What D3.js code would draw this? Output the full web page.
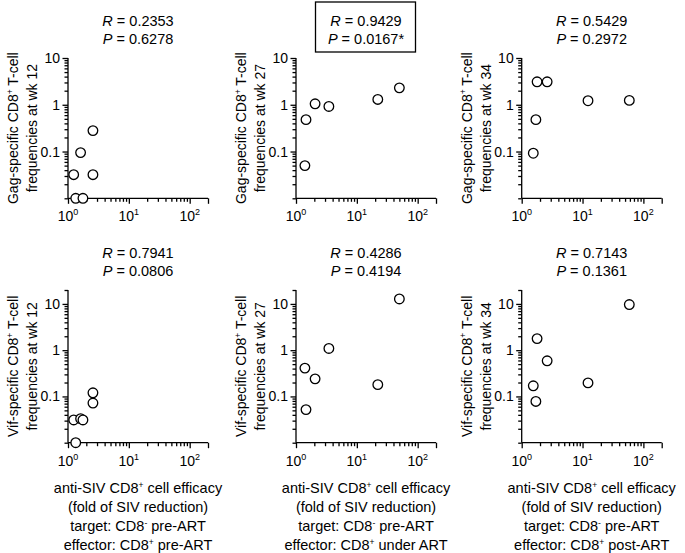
<!DOCTYPE html>
<html>
<head>
<meta charset="utf-8">
<script src="https://cdn.jsdelivr.net/npm/d3@7"></script>
<style>
  html, body { margin: 0; padding: 0; background: #fff; }
  svg { display: block; }
  text { font-family: Arial, "Liberation Sans", sans-serif; fill: #000; }
</style>
</head>
<body>
<svg id="chart" width="685" height="553"></svg>
<script>
// ---- data ----
const effPreART   = [1.24, 1.34, 1.61, 1.76, 2.57, 2.57];   // x, column 1
const effUnderART = [1.40, 1.46, 2.06, 3.47, 22.1, 50.0];   // x, column 2
const effPostART  = [1.55, 1.71, 1.79, 2.62, 12.3, 58.7];   // x, column 3

const gagWk12 = [0.032, 0.010, 0.095, 0.010, 0.28, 0.032];
const gagWk27 = [0.050, 0.48, 1.05, 0.92, 1.30, 2.30];
const gagWk34 = [0.092, 0.48, 3.10, 3.10, 1.22, 1.24];
const vifWk12 = [0.031, 0.010, 0.033, 0.031, 0.12, 0.072];
const vifWk27 = [0.41, 0.052, 0.24, 1.09, 0.18, 12.8];
const vifWk34 = [0.17, 0.078, 1.78, 0.59, 0.196, 9.7];

const rValues = ["0.2353", "0.9429", "0.5429", "0.7941", "0.4286", "0.7143"];
const pValues = ["0.6278", "0.0167*", "0.2972", "0.0806", "0.4194", "0.1361"];
const highlighted = [false, true, false, false, false, false];

const antigens = ["Gag", "Vif"];
const weeks = ["12", "27", "34"];
const effectors = ["pre-ART", "under ART", "post-ART"];
const xTickValues = [1, 10, 100];
const yTickValues = [0.1, 1, 10];
const xDomain = [1, 200];
const yDomains = [[0.01, 10], [0.01, 20]];

// ---- layout ----
const colX = [68, 296, 521.7];
const plotW = 140;
const rowTop = [58, 290];
const rowBottom = [198.3, 442.7];
const FS = 14;

const svg = d3.select("#chart");
const xs = [effPreART, effUnderART, effPostART];
const ys = [[gagWk12, gagWk27, gagWk34], [vifWk12, vifWk27, vifWk34]];

function minorTicks(lo, hi) {
  const out = [];
  for (let e = -3; e <= 3; e++) {
    for (let m = 1; m <= 9; m++) {
      const v = m * Math.pow(10, e);
      if (v >= lo * 0.9999 && v <= hi * 1.0001) out.push(v);
    }
  }
  return out;
}

for (let r = 0; r < 2; r++) {
  for (let c = 0; c < 3; c++) {
    const idx = r * 3 + c;
    const x0 = colX[c];
    const x = d3.scaleLog().domain(xDomain).range([x0, x0 + plotW]);
    const y = d3.scaleLog().domain(yDomains[r]).range([rowBottom[r], rowTop[r]]);
    const g = svg.append("g");

    // x axis: line + ticks
    const xMinor = minorTicks(xDomain[0], xDomain[1]);
    const xAxis = d3.axisBottom(x).tickValues(xMinor).tickSize(3.5).tickFormat("");
    const gx = g.append("g").attr("transform", `translate(0,${rowBottom[r]})`).call(xAxis);
    gx.select(".domain").attr("d", `M${x0},0H${x0 + plotW}`);
    gx.selectAll(".tick line").attr("y2", d => xTickValues.includes(d) || d === 200 ? 5.5 : 3.5);
    gx.selectAll("path,line").attr("stroke", "#000").attr("stroke-width", 1.3);

    // y axis
    const yMinor = minorTicks(yDomains[r][0], yDomains[r][1]);
    const yAxis = d3.axisLeft(y).tickValues(yMinor).tickSize(3.5).tickFormat("");
    const gy = g.append("g").attr("transform", `translate(${x0},0)`).call(yAxis);
    gy.select(".domain").attr("d", `M0,${rowTop[r]}V${rowBottom[r]}`);
    gy.selectAll(".tick line").attr("x2", d => yTickValues.includes(d) ? -5.5 : -3.5);
    gy.selectAll("path,line").attr("stroke", "#000").attr("stroke-width", 1.3);

    // y tick labels
    g.selectAll(".ylab").data(yTickValues).enter().append("text")
      .attr("x", x0 - 8).attr("y", d => y(d) + 5)
      .attr("text-anchor", "end").attr("font-size", FS)
      .text(d => d3.format("~g")(d));

    // x tick labels 10^n
    xTickValues.forEach(v => {
      const t = g.append("text")
        .attr("x", x(v)).attr("y", rowBottom[r] + 23)
        .attr("text-anchor", "middle").attr("font-size", FS);
      t.append("tspan").text("10");
      t.append("tspan").attr("font-size", 9).attr("dy", -6).text(String(Math.round(Math.log10(v))));
    });

    // y axis title (rotated, 2 lines)
    const yc = (rowTop[r] + rowBottom[r]) / 2;
    const t1 = g.append("text")
      .attr("transform", `translate(${x0 - 50},${yc}) rotate(-90)`)
      .attr("text-anchor", "middle").attr("font-size", FS);
    t1.append("tspan").text(`${antigens[r]}-specific CD8`);
    t1.append("tspan").attr("font-size", 8.5).attr("dy", -5.5).text("+");
    t1.append("tspan").attr("dy", 5.5).text(" T-cell");
    g.append("text")
      .attr("transform", `translate(${x0 - 31},${yc}) rotate(-90)`)
      .attr("text-anchor", "middle").attr("font-size", FS)
      .text(`frequencies at wk ${weeks[c]}`);

    // stats
    const cx = x0 + plotW / 2;
    const sr = g.append("text").attr("x", cx).attr("y", rowTop[r] - 32)
      .attr("text-anchor", "middle").attr("font-size", 14.5);
    sr.append("tspan").attr("font-style", "italic").text("R");
    sr.append("tspan").text(" = " + rValues[idx]);
    const sp = g.append("text").attr("x", cx).attr("y", rowTop[r] - 14)
      .attr("text-anchor", "middle").attr("font-size", 14.5);
    sp.append("tspan").attr("font-style", "italic").text("P");
    sp.append("tspan").text(" = " + pValues[idx]);
    if (highlighted[idx]) {
      const w = 100;
      g.append("rect").attr("x", cx - w / 2 - 0.5).attr("y", rowTop[r] - 56)
        .attr("width", w).attr("height", 50)
        .attr("fill", "none").attr("stroke", "#000").attr("stroke-width", 1.3);
    }

    // x title (bottom row)
    if (r === 1) {
      const lines = [
        [["anti-SIV CD8", ""], ["+", "sup"], [" cell efficacy", ""]],
        [["(fold of SIV reduction)", ""]],
        [["target: CD8", ""], ["-", "sup"], [" pre-ART", ""]],
        [["effector: CD8", ""], ["+", "sup"], [" " + effectors[c], ""]]
      ];
      lines.forEach((ln, i) => {
        const t = g.append("text").attr("x", cx).attr("y", 493 + i * 19)
          .attr("text-anchor", "middle").attr("font-size", 14.5);
        ln.forEach(([s, k]) => {
          if (k === "sup") t.append("tspan").attr("font-size", 8.5).attr("dy", -5.5).text(s);
          else if (t.selectAll("tspan").size() > 0) t.append("tspan").attr("dy", 5.5).text(s);
          else t.append("tspan").text(s);
        });
      });
    }

    // points
    g.selectAll("circle").data(xs[c].map((xv, i) => [xv, ys[r][c][i]])).enter()
      .append("circle")
      .attr("cx", d => x(d[0])).attr("cy", d => y(d[1])).attr("r", 4.8)
      .attr("fill", "#fff").attr("stroke", "#000").attr("stroke-width", 1.3);
  }
}
</script>
</body>
</html>
